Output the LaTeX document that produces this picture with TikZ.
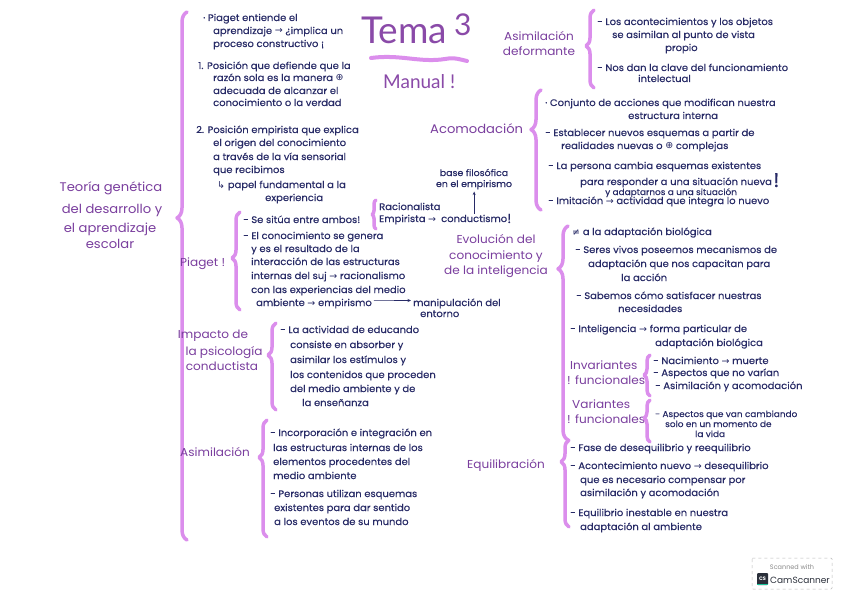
\documentclass[tikz,border=0pt]{standalone}
\usepackage{fontspec}
\usetikzlibrary{decorations.pathreplacing,arrows.meta}
\setmainfont{Poppins}
\newfontfamily\handf{Poppins}[FakeStretch=1.05,FakeBold=0.3]
\newfontfamily\headf{Poppins}[FakeStretch=1.05]
\newfontfamily\titf{Lato}
\newfontfamily\symf{DejaVu Sans}
\definecolor{ink}{HTML}{272A66}
\definecolor{hpurp}{HTML}{7A3E9E}
\definecolor{pinkb}{HTML}{DB8EEC}
\definecolor{tpurp}{HTML}{8A4AA8}
\definecolor{csgray}{HTML}{8A8A8A}
\definecolor{csdark}{HTML}{2A2F3A}
\definecolor{csgreen}{HTML}{19C39A}
\newcommand\arr{{\symf\char"2192}}
\newcommand\harr{{\symf\char"21B3}}
\newcommand\oplusc{{\symf\char"2295}}
\newcommand\neqc{{\symf\char"2260}}
\newcommand\Tx[4]{\node[tx] (#1) at (#2,#3) {#4};}
\newcommand\Hd[4]{\node[hd] (#1) at (#2,#3) {#4};}
\newcommand\Hc[4]{\node[hdc] (#1) at (#2,#3) {#4};}
\newcommand\Brace[6]{\draw[brc, decoration={brace, amplitude=#5pt, aspect=#6}] (#2,#3) coordinate (#1b) -- (#2,#4) coordinate (#1t);}
\tikzset{
  tx/.style={font=\handf\fontsize{9.5}{11}\selectfont, text=ink, inner sep=0pt, anchor=base west},
  hd/.style={font=\headf\fontsize{11.5}{13}\selectfont, text=hpurp, inner sep=0pt, anchor=base west},
  hdc/.style={hd, anchor=base},
  brc/.style={draw=pinkb, line width=3.5pt, line cap=round, line join=round, decorate},
  arw/.style={draw=ink, line width=0.6pt, -{Stealth[length=3.5pt,width=3pt]}},
}
\begin{document}
\begin{tikzpicture}[x=1pt,y=-1pt]
\fill[white] (0,0) rectangle (848,599);
\useasboundingbox (0,0) rectangle (848,599);

% ---------- title
\node[font=\titf\fontsize{37}{38}\selectfont, text=tpurp, inner sep=0pt, anchor=base west] (tema) at (361,44) {Tema};
\node[font=\titf\fontsize{30}{30}\selectfont, text=tpurp, inner sep=0pt, anchor=base west] (tres) at (454,36) {3};
\draw[draw=pinkb, line width=4pt, line cap=round] (371,58) .. controls (400,54) and (420,63) .. (445,59) .. controls (455,57) and (462,60) .. (467,61);
\node[font=\titf\fontsize{19}{21}\selectfont, text=tpurp, inner sep=0pt, anchor=base west] (manual) at (383,89) {Manual !};

% ---------- main heading
\node[hdc, font=\headf\fontsize{12.5}{14}\selectfont] (teo1) at (111,191) {Teoría genética};
\node[hdc, font=\headf\fontsize{12.5}{14}\selectfont] (teo2) at (112,213) {del desarrollo y};
\node[hdc, font=\headf\fontsize{12.5}{14}\selectfont] (teo3) at (110,232) {el aprendizaje};
\node[hdc, font=\headf\fontsize{12.5}{14}\selectfont] (teo4) at (110,248) {escolar};
\Brace{big}{187}{540}{12}{10}{0.61}

% ---------- top-left block
\Tx{l1}{203}{21}{· Piaget entiende el}
\Tx{l2}{213}{34}{aprendizaje \arr{} ¿implica un}
\Tx{l3}{213}{47}{proceso constructivo ¡}
\Tx{l4}{198}{69}{1. Posición que defiende que la}
\Tx{l5}{213}{81}{razón sola es la manera \oplusc}
\Tx{l6}{213}{94}{adecuada de alcanzar el}
\Tx{l7}{213}{106}{conocimiento o la verdad}
\Tx{l8}{196}{133}{2. Posición empirista que explica}
\Tx{l9}{213}{146}{el origen del conocimiento}
\Tx{l10}{213}{160}{a través de la vía sensorial}
\Tx{l11}{213}{173}{que recibimos}
\Tx{l12}{217}{188}{\harr{} papel fundamental a la}
\Tx{l13}{265}{201}{experiencia}

% ---------- Piaget
\Hd{piag}{180}{266}{Piaget !}
\Brace{pg}{240}{310}{212}{8}{0.53}
\Tx{p1}{243}{223}{- Se sitúa entre ambos!}
\Brace{sm}{376}{229}{200}{4}{0.5}
\Tx{rac}{379}{210}{Racionalista}
\Tx{emp1}{379}{222}{Empirista \arr}
\Tx{cond}{441}{222}{conductismo}
\node[tx, font=\handf\fontsize{13}{14}\selectfont] (ex1) at (507,223) {!};
\node[tx, anchor=base, align=center, font=\handf\fontsize{9}{11}\selectfont] (base) at (474,187) {base filosófica\\en el empirismo};
\draw[arw] ([yshift=1pt]cond.north) -- ([yshift=-2pt]cond.north |- base.south);
\Tx{p2}{243}{239}{- El conocimiento se genera}
\Tx{p3}{251}{252}{y es el resultado de la}
\Tx{p4}{251}{265}{interacción de las estructuras}
\Tx{p5}{251}{279}{internas del suj \arr{} racionalismo}
\Tx{p6}{251}{293}{con las experiencias del medio}
\Tx{p7}{256}{306}{ambiente \arr{} empirismo}
\Tx{man1}{413}{306}{manipulación del}
\Tx{man2}{420}{317}{entorno}
\draw[arw] ([yshift=3pt]p7.east) ++(2,0) -- ([yshift=3pt,xshift=-2pt]man1.west);

% ---------- Asimilacion deformante
\Hc{ad1}{539}{41}{Asimilación}
\Hc{ad2}{539}{56}{deformante}
\Brace{adb}{594}{88}{10}{8}{0.54}
\Tx{r1}{597}{25}{- Los acontecimientos y los objetos}
\Tx{r2}{612}{38}{se asimilan al punto de vista}
\Tx{r3}{665}{51}{propio}
\Tx{r4}{597}{71}{- Nos dan la clave del funcionamiento}
\Tx{r5}{638}{82}{intelectual}

% ---------- Acomodacion
\node[hd, font=\headf\fontsize{12.5}{14}\selectfont] (acom) at (430,134) {Acomodación};
\Brace{acb}{541}{210}{90}{10}{0.67}
\Tx{a1}{545}{106}{· Conjunto de acciones que modifican nuestra}
\Tx{a2}{628}{119}{estructura interna}
\Tx{a3}{545}{136}{- Establecer nuevos esquemas a partir de}
\Tx{a4}{561}{149}{realidades nuevas o \oplusc{} complejas}
\Tx{a5}{548}{169}{- La persona cambia esquemas existentes}
\Tx{a6}{580}{185}{para responder a una situación nueva}
\node[tx, font=\handf\fontsize{8.5}{10}\selectfont] (a7) at (605,195) {y adaptarnos a una situación};
\Tx{a8}{548}{204}{- Imitación \arr{} actividad que integra lo nuevo}
\node[tx, font=\handf\fontsize{20}{22}\selectfont] (ex2) at (773,187) {!};

% ---------- Evolucion
\Hc{ev1}{496}{243}{Evolución del}
\Hc{ev2}{496}{259}{conocimiento y}
\Hc{ev3}{496}{274}{de la inteligencia}
\Brace{evb}{568}{440}{226}{10}{0.80}
\Tx{e1}{572}{235}{\neqc{} a la adaptación biológica}
\Tx{e2}{575}{253}{- Seres vivos poseemos mecanismos de}
\Tx{e3}{588}{267}{adaptación que nos capacitan para}
\Tx{e4}{621}{281}{la acción}
\Tx{e5}{576}{299}{- Sabemos cómo satisfacer nuestras}
\Tx{e6}{618}{312}{necesidades}
\Tx{e7}{570}{332}{- Inteligencia \arr{} forma particular de}
\Tx{e8}{655}{346}{adaptación biológica}

\Hd{inv1}{570}{369}{Invariantes}
\Hd{inv2}{567}{384}{! funcionales}
\Brace{invb}{650}{396}{355}{6}{0.51}
\Tx{i1}{653}{364}{- Nacimiento \arr{} muerte}
\Tx{i2}{653}{376}{- Aspectos que no varían}
\Tx{i3}{655}{389}{- Asimilación y acomodación}
\Hd{var1}{572}{408}{Variantes}
\Hd{var2}{567}{423}{! funcionales}
\Brace{varb}{650}{442}{400}{6}{0.57}
\node[tx, font=\handf\fontsize{8.5}{10}\selectfont] (v1) at (655,417) {- Aspectos que van cambiando};
\node[tx, font=\handf\fontsize{8.5}{10}\selectfont] (v2) at (665,427) {solo en un momento de};
\node[tx, font=\handf\fontsize{8.5}{10}\selectfont] (v3) at (695,437) {la vida};

% ---------- Impacto
\Hc{im1}{213}{338}{Impacto de}
\Hc{im2}{224}{355}{la psicología}
\Hc{im3}{222}{370}{conductista}
\Brace{imb}{276}{410}{323}{8}{0.63}
\Tx{c1}{280}{333}{- La actividad de educando}
\Tx{c2}{290}{348}{consiste en absorber y}
\Tx{c3}{290}{363}{asimilar los estímulos y}
\Tx{c4}{290}{378}{los contenidos que proceden}
\Tx{c5}{290}{392}{del medio ambiente y de}
\Tx{c6}{302}{406}{la enseñanza}

% ---------- Asimilacion
\Hd{asim}{180}{456}{Asimilación}
\Brace{asb}{267}{537}{420}{8}{0.68}
\Tx{s1}{270}{436}{- Incorporación e integración en}
\Tx{s2}{273}{451}{las estructuras internas de los}
\Tx{s3}{273}{465}{elementos procedentes del}
\Tx{s4}{273}{479}{medio ambiente}
\Tx{s5}{270}{497}{- Personas utilizan esquemas}
\Tx{s6}{274}{511}{existentes para dar sentido}
\Tx{s7}{274}{525}{a los eventos de su mundo}

% ---------- Equilibracion
\Hd{equi}{467}{468}{Equilibración}
\Brace{eqb}{569}{527}{440}{8}{0.75}
\Tx{q1}{570}{451}{- Fase de desequilibrio y reequilibrio}
\Tx{q2}{570}{469}{- Acontecimiento nuevo \arr{} desequilibrio}
\Tx{q3}{580}{483}{que es necesario compensar por}
\Tx{q4}{580}{496}{asimilación y acomodación}
\Tx{q5}{570}{516}{- Equilibrio inestable en nuestra}
\Tx{q6}{580}{530}{adaptación al ambiente}

% ---------- CamScanner badge
\draw[draw=csgray!60, line width=0.5pt, dashed, rounded corners=1pt] (752,558) rectangle (832,589);
\node[font=\fontsize{6.5}{7}\selectfont, text=csgray, inner sep=0pt, anchor=base] (scw) at (792,569) {Scanned with};
\fill[csdark, rounded corners=1pt] (757,573) rectangle (768,585);
\fill[csgreen] (757,583.5) rectangle (768,585);
\node[font=\fontsize{5}{5}\selectfont\bfseries, text=white, inner sep=0pt] (csl) at (762.5,578.5) {CS};
\node[font=\fontsize{9}{10}\selectfont, text=csdark, inner sep=0pt, anchor=base west] (csn) at (770,583) {CamScanner};
\end{tikzpicture}
\end{document}
